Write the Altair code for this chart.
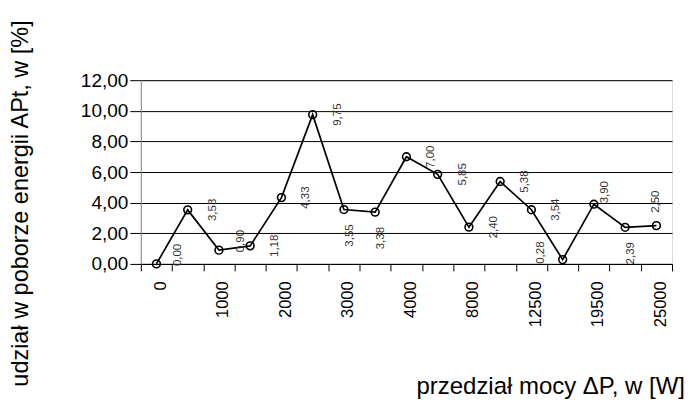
import json
import altair as alt
import pandas as pd

# --- data ---
tick_labels = ["0", "", "1000", "", "2000", "", "3000", "", "4000", "",
               "8000", "", "12500", "", "19500", "", "25000"]
values = [0.00, 3.53, 0.90, 1.18, 4.33, 9.75, 3.55, 3.38, 7.00, 5.85,
          2.40, 5.38, 3.54, 0.28, 3.90, 2.39, 2.50]
# label placement codes (style): R right, RU right-up, B below, L left, A above, RA right-above
label_pos = ["RU", "R", "RU", "R", "R", "R", "B", "B", "R", "R",
             "R", "R", "R", "L", "RA", "B", "A"]

df = pd.DataFrame({
    "i": list(range(len(values))),
    "v": values,
    "pos": label_pos,
})

# screen offsets for each placement code (right, down) in px
offs = {"R": (25, 0), "RU": (22, -9), "B": (6, 26), "L": (-22, -7),
        "A": (0, -24), "RA": (11, -12)}

FONT = "Liberation Sans"
label_arr = json.dumps(tick_labels)

x_enc = alt.X(
    "i:O",
    bandPosition=0.5,
    scale=alt.Scale(type="band", paddingInner=0, paddingOuter=0,
                    domain=list(range(len(values)))),
    axis=alt.Axis(
        title="przedział mocy ΔP, w [W]",
        labelExpr=f"{label_arr}[datum.value]",
        labelAngle=-90,
        labelAlign="right",
        labelBaseline="middle",
        labelFont=FONT, labelFontSize=16.5, labelColor="#000",
        labelPadding=10, labelOffset=4,
        tickBand="extent", tickSize=7, tickColor="#000",
        domainColor="#000",
        grid=False,
        titleFont=FONT, titleFontSize=24, titleFontWeight="normal",
        titleColor="#000", titleX=410, titleY=123,
        titleAlign="center", titleBaseline="middle",
    ),
)

y_enc = alt.Y(
    "v:Q",
    scale=alt.Scale(domain=[0, 12], nice=False),
    axis=alt.Axis(
        title="udział w poborze energii APt, w [%]",
        values=[0, 2, 4, 6, 8, 10, 12],
        labelExpr="replace(format(datum.value, '.2f'), '.', ',')",
        labelFont=FONT, labelFontSize=19, labelColor="#000",
        labelPadding=2,
        tickSize=11, tickColor="#000",
        domainColor="#888",
        grid=True, gridColor="#000", gridWidth=1,
        titleFont=FONT, titleFontSize=23.5, titleFontWeight="normal",
        titleColor="#000", titleX=-120, titleY=123,
        titleAlign="center", titleBaseline="middle", titleAngle=-90,
    ),
)

base = alt.Chart(df)

line = base.mark_line(color="#000", strokeWidth=1.7).encode(x=x_enc, y=y_enc)
pts = base.mark_point(shape="circle", filled=False, color="#000", size=60,
                      strokeWidth=1.6, opacity=1).encode(x=x_enc, y=y_enc)

# offsets: text rotated -90 -> dx moves up on screen, dy moves right
label_layers = []
for k, (sx, sy) in offs.items():
    sub = base.transform_filter(f"datum.pos == '{k}'").transform_calculate(
        txt="replace(format(datum.v, '.2f'), '.', ',')"
    ).mark_text(angle=270, align="center", baseline="middle",
                font=FONT, fontSize=11.5, color="#333",
                dx=-sy, dy=sx).encode(x=x_enc, y=y_enc, text="txt:N")
    label_layers.append(sub)

chart = alt.layer(line, pts, *label_layers).properties(
    width=532, height=184,
    autosize=alt.AutoSizeParams(type="none"),
    padding={"left": 133, "top": 72, "right": 20, "bottom": 135},
).configure_view(stroke="#888", strokeWidth=1).configure(background="white")

chart.save("out.html", embed_options={"renderer": "svg", "actions": False})
